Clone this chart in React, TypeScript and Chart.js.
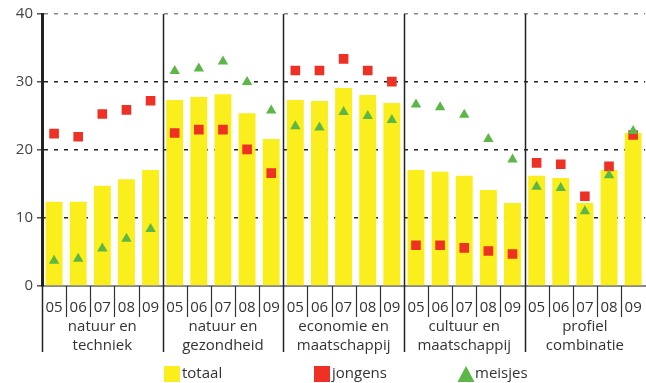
import React, { useEffect, useRef } from "react";
import { Chart, registerables } from "chart.js";

Chart.register(...registerables);

const years = ["05", "06", "07", "08", "09"];
const groups = [
  ["natuur en", "techniek"],
  ["natuur en", "gezondheid"],
  ["economie en", "maatschappij"],
  ["cultuur en", "maatschappij"],
  ["profiel", "combinatie"],
];
const categories = groups.flatMap((g) => years.map((y) => `${g.join(" ")} ${y}`));

const totaal = [
  12.4, 12.4, 14.75, 15.7, 17.05,
  27.35, 27.8, 28.2, 25.4, 21.6,
  27.35, 27.2, 29.1, 28.1, 26.9,
  17.05, 16.8, 16.2, 14.1, 12.2,
  16.2, 15.9, 12.2, 17.05, 22.5,
];
const jongens = [
  22.4, 21.95, 25.3, 25.9, 27.25,
  22.5, 23.0, 23.0, 20.1, 16.6,
  31.7, 31.7, 33.4, 31.7, 30.05,
  6.0, 6.0, 5.6, 5.15, 4.7,
  18.1, 17.9, 13.2, 17.6, 22.2,
];
const meisjes = [
  3.7, 4.0, 5.5, 6.95, 8.4,
  31.6, 32.0, 33.0, 30.0, 25.8,
  23.5, 23.3, 25.6, 25.0, 24.4,
  26.7, 26.3, 25.2, 21.6, 18.6,
  14.6, 14.4, 11.0, 16.3, 22.8,
];
const yTicks = [0, 10, 20, 30, 40];

const YELLOW = "#FAEE1C";
const RED = "#EE3124";
const GREEN = "#5CB747";
const FONT = "'Open Sans', sans-serif";

const axisPlugin = {
  id: "customAxis",
  afterDraw(chart: any) {
    const ctx = chart.ctx;
    const x = chart.scales.x;
    const area = chart.chartArea;
    const n = categories.length;
    const step = x.getPixelForValue(1) - x.getPixelForValue(0);
    ctx.save();
    for (let i = 1; i < n; i++) {
      const bx = Math.round(x.getPixelForValue(i) - step / 2) + 0.5;
      const isGroup = i % years.length === 0;
      ctx.beginPath();
      if (isGroup) {
        ctx.lineWidth = 1.5;
        ctx.strokeStyle = "#222";
        ctx.moveTo(bx, area.top);
        ctx.lineTo(bx, 352);
      } else {
        ctx.lineWidth = 1.2;
        ctx.strokeStyle = "#333";
        ctx.moveTo(bx, area.bottom);
        ctx.lineTo(bx, 317);
      }
      ctx.stroke();
    }
    ctx.beginPath();
    ctx.lineWidth = 1.5;
    ctx.strokeStyle = "#222";
    ctx.moveTo(area.left + 0.5, area.bottom);
    ctx.lineTo(area.left + 0.5, 352);
    ctx.stroke();
    ctx.fillStyle = "#333";
    ctx.font = `15px ${FONT}`;
    ctx.textAlign = "center";
    ctx.textBaseline = "middle";
    for (let i = 0; i < n; i++) {
      ctx.fillText(years[i % years.length], x.getPixelForValue(i), 308);
    }
    groups.forEach((g, gi) => {
      const cx = (x.getPixelForValue(gi * 5) + x.getPixelForValue(gi * 5 + 4)) / 2;
      ctx.fillText(g[0], cx, 327);
      ctx.fillText(g[1], cx, 346);
    });
    const ds = chart.data.datasets;
    const legend = [
      { label: ds[2].label, color: ds[2].backgroundColor, shape: "rect", x: 164 },
      { label: ds[1].label, color: ds[1].backgroundColor, shape: "rect", x: 314 },
      { label: ds[0].label, color: ds[0].backgroundColor, shape: "tri", x: 458 },
    ];
    ctx.textAlign = "left";
    legend.forEach((l) => {
      ctx.fillStyle = l.color;
      if (l.shape === "rect") {
        ctx.fillRect(l.x, 366, 16, 16);
      } else {
        ctx.beginPath();
        ctx.moveTo(l.x + 8, 366);
        ctx.lineTo(l.x + 16.5, 382);
        ctx.lineTo(l.x - 0.5, 382);
        ctx.closePath();
        ctx.fill();
      }
      ctx.fillStyle = "#333";
      ctx.fillText(l.label, l.x + (l.shape === "rect" ? 18 : 17), 374);
    });
    ctx.restore();
  },
};

export default function App() {
  const ref = useRef<HTMLCanvasElement>(null);
  useEffect(() => {
    document.body.style.margin = "0";
    const chart = new Chart(ref.current!, {
      type: "bar",
      data: {
        labels: categories,
        datasets: [
          {
            type: "line",
            label: "meisjes",
            data: meisjes,
            showLine: false,
            pointStyle: "triangle",
            pointRadius: 6,
            backgroundColor: GREEN,
            borderColor: GREEN,
            borderWidth: 0,
            order: 0,
          } as any,
          {
            type: "line",
            label: "jongens",
            data: jongens,
            showLine: false,
            pointStyle: "rect",
            pointRadius: 6.8,
            backgroundColor: RED,
            borderColor: RED,
            borderWidth: 0,
            order: 1,
          } as any,
          {
            type: "bar",
            label: "totaal",
            data: totaal,
            backgroundColor: YELLOW,
            barPercentage: 0.7,
            categoryPercentage: 1,
            order: 2,
          },
        ],
      },
      options: {
        animation: false,
        responsive: false,
        devicePixelRatio: 1,
        layout: { padding: { top: 14, left: 0, right: 0, bottom: 0 } },
        plugins: { legend: { display: false }, tooltip: { enabled: false } },
        scales: {
          x: {
            grid: { display: false },
            border: { display: true, color: "#888", width: 2 },
            ticks: { display: false },
            afterFit: (s: any) => {
              s.height = 97;
            },
          },
          y: {
            min: 0,
            max: 40,
            afterBuildTicks: (s: any) => {
              s.ticks = yTicks.map((v) => ({ value: v }));
            },
            afterFit: (s: any) => {
              s.width = 42;
            },
            grid: {
              color: (c: any) =>
                c.tick && c.tick.value === 0
                  ? "rgba(0,0,0,0)"
                  : c.tick && c.tick.value === 40
                  ? "#888"
                  : "#222",
              lineWidth: 1.5,
              tickLength: 5,
              tickColor: "#555",
              tickWidth: 1.5,
            },
            border: { display: true, color: "#222", width: 3, dash: [4, 6] },
            ticks: {
              color: "#444",
              font: { family: FONT, size: 15 },
              padding: 4,
            },
          },
        },
      },
      plugins: [axisPlugin],
    });
    return () => chart.destroy();
  }, []);
  return (
    <div style={{ position: "absolute", left: 0, top: 0, width: 646, height: 383, overflow: "hidden" }}>
      <canvas ref={ref} width={652} height={383} style={{ width: 652, height: 383 }} />
    </div>
  );
}
